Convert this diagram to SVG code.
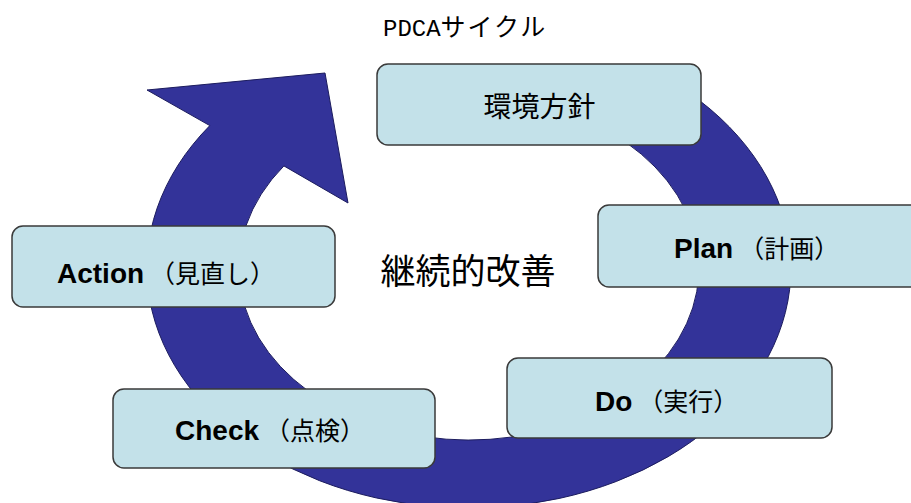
<svg xmlns="http://www.w3.org/2000/svg" width="911" height="503" viewBox="0 0 911 503">
<style>
.box{fill:#c3e1e9;stroke:#3a3a3a;stroke-width:1.5}
.lat{font-family:"Liberation Sans",Arial,sans-serif;font-weight:bold;font-size:28px;fill:#000}
.jp{font-family:"Noto Sans CJK JP","Noto Sans",sans-serif;font-weight:normal;font-size:25px;fill:#000}
</style>
<rect width="911" height="503" fill="#ffffff"/>
<g id="connectors">
<path id="cycle-arrow" d="M688.6,92.6 A322,240 0 1 1 209.8,125.6 L147,90 L325,73 L348,203 L283.9,165.9 A230,172 0 1 0 625.9,142.3 Z" fill="#333399" stroke="#1c1c5e" stroke-width="1"/>
</g>
<g id="title">
<text x="383" y="36" fill="#000"><tspan font-family="'Liberation Mono',monospace" font-size="24">PDCA</tspan><tspan font-family="'Noto Sans CJK JP',sans-serif" font-size="25" letter-spacing="2">サイクル</tspan></text>
</g>
<g id="center-label">
<text x="468" y="284" text-anchor="middle" font-family="'Noto Sans CJK JP',sans-serif" font-size="35" fill="#000">継続的改善</text>
</g>
<g id="node-policy">
<rect class="box" x="377" y="64" width="324" height="81" rx="11"/>
<text x="539.5" y="117" text-anchor="middle" font-family="'Noto Sans CJK JP',sans-serif" font-size="28" fill="#000">環境方針</text>
</g>
<g id="node-plan">
<rect class="box" x="598" y="205" width="330" height="82" rx="11"/>
<text x="674" y="258"><tspan class="lat">Plan</tspan><tspan class="jp" dx="6">（計画）</tspan></text>
</g>
<g id="node-do">
<rect class="box" x="507" y="358" width="325" height="80" rx="11"/>
<text x="595" y="411"><tspan class="lat">Do</tspan><tspan class="jp" dx="6">（実行）</tspan></text>
</g>
<g id="node-check">
<rect class="box" x="113" y="389" width="322" height="79" rx="11"/>
<text x="175" y="440"><tspan class="lat">Check</tspan><tspan class="jp" dx="6">（点検）</tspan></text>
</g>
<g id="node-action">
<rect class="box" x="12" y="226" width="323" height="81" rx="11"/>
<text x="57" y="283"><tspan class="lat">Action</tspan><tspan class="jp" dx="6">（見直し）</tspan></text>
</g>
</svg>
